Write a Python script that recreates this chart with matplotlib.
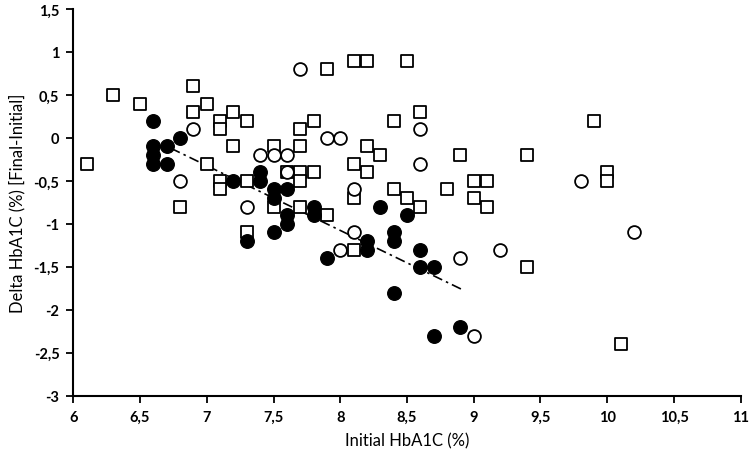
import matplotlib
matplotlib.use("Agg")
import matplotlib.pyplot as plt

# Filled circles
filled_x = [6.6, 6.6, 6.6, 6.6, 6.7, 6.7, 6.8, 7.2, 7.3, 7.4, 7.4, 7.5, 7.5, 7.5, 7.6, 7.6, 7.6,
            7.8, 7.8, 7.9, 8.2, 8.2, 8.3, 8.4, 8.4, 8.4, 8.5, 8.6, 8.6, 8.7, 8.7, 8.9]
filled_y = [0.2, -0.1, -0.2, -0.3, -0.1, -0.3, 0.0, -0.5, -1.2, -0.4, -0.5, -0.6, -0.7, -1.1, -0.6, -0.9, -1.0,
            -0.8, -0.9, -1.4, -1.2, -1.3, -0.8, -1.1, -1.2, -1.8, -0.9, -1.3, -1.5, -1.5, -2.3, -2.2]

# Open circles
open_x = [6.8, 6.9, 7.3, 7.4, 7.5, 7.6, 7.6, 7.7, 7.9, 8.0, 8.0, 8.1, 8.1, 8.6, 8.6, 8.9, 9.0, 9.2, 9.8, 10.2]
open_y = [-0.5, 0.1, -0.8, -0.2, -0.2, -0.2, -0.4, 0.8, 0.0, 0.0, -1.3, -0.6, -1.1, 0.1, -0.3, -1.4, -2.3, -1.3, -0.5, -1.1]

# Open squares
sq_x = [6.1, 6.3, 6.5, 6.8, 6.9, 6.9, 7.0, 7.0, 7.1, 7.1, 7.1, 7.1, 7.2, 7.2, 7.3, 7.3, 7.3,
        7.5, 7.5, 7.6, 7.7, 7.7, 7.7, 7.7, 7.7, 7.8, 7.8, 7.9, 7.9, 8.1, 8.1, 8.1, 8.1,
        8.2, 8.2, 8.2, 8.3, 8.4, 8.4, 8.5, 8.5, 8.6, 8.6, 8.8, 8.9, 9.0, 9.0, 9.1, 9.1,
        9.4, 9.4, 9.9, 10.0, 10.0, 10.1]
sq_y = [-0.3, 0.5, 0.4, -0.8, 0.6, 0.3, 0.4, -0.3, 0.2, 0.1, -0.5, -0.6, 0.3, -0.1, 0.2, -0.5, -1.1,
        -0.1, -0.8, -0.4, 0.1, -0.1, -0.4, -0.5, -0.8, 0.2, -0.4, 0.8, -0.9, 0.9, -0.3, -0.7, -1.3,
        0.9, -0.1, -0.4, -0.2, 0.2, -0.6, 0.9, -0.7, 0.3, -0.8, -0.6, -0.2, -0.5, -0.7, -0.5, -0.8,
        -0.2, -1.5, 0.2, -0.4, -0.5, -2.4]

# Trend line (filled circles)
trend_x = [6.73, 8.92]
trend_y = [-0.12, -1.77]

x_ticks = [6, 6.5, 7, 7.5, 8, 8.5, 9, 9.5, 10, 10.5, 11]
x_labels = ["6", "6,5", "7", "7,5", "8", "8,5", "9", "9,5", "10", "10,5", "11"]
y_ticks = [1.5, 1, 0.5, 0, -0.5, -1, -1.5, -2, -2.5, -3]
y_labels = ["1,5", "1", "0,5", "0", "-0,5", "-1", "-1,5", "-2", "-2,5", "-3"]

plt.rcParams['font.family'] = ['Lato', 'DejaVu Sans']

fig = plt.figure(figsize=(7.51, 4.60), dpi=100)
ax = fig.add_axes([0.0976, 0.1376, 0.8887, 0.8407])

ax.plot(trend_x, trend_y, color='black', lw=1.2, linestyle=(0, (6, 2.5, 1.5, 2.5)), zorder=1)
ax.scatter(sq_x, sq_y, marker='s', s=72, facecolors='white', edgecolors='black', linewidths=1.3, zorder=2)
ax.scatter(open_x, open_y, marker='o', s=85, facecolors='white', edgecolors='black', linewidths=1.3, zorder=3)
ax.scatter(filled_x, filled_y, marker='o', s=95, facecolors='black', edgecolors='black', linewidths=1.0, zorder=4)

ax.set_xlim(6, 11)
ax.set_ylim(-3, 1.5)
ax.set_xticks(x_ticks)
ax.set_xticklabels(x_labels, fontsize=10.5, fontweight='bold')
ax.set_yticks(y_ticks)
ax.set_yticklabels(y_labels, fontsize=10.5, fontweight='bold')
ax.tick_params(direction='out', length=5, width=1.3, color='black', pad=5)

for s in ['top', 'right']:
    ax.spines[s].set_visible(False)
for s in ['left', 'bottom']:
    ax.spines[s].set_linewidth(1.5)
    ax.spines[s].set_color('black')

ax.set_xlabel("Initial HbA1C (%)", fontsize=12, labelpad=6)
ax.set_ylabel("Delta HbA1C (%) [Final-Initial]", fontsize=12, labelpad=6)

fig.savefig("out.png", dpi=100)
